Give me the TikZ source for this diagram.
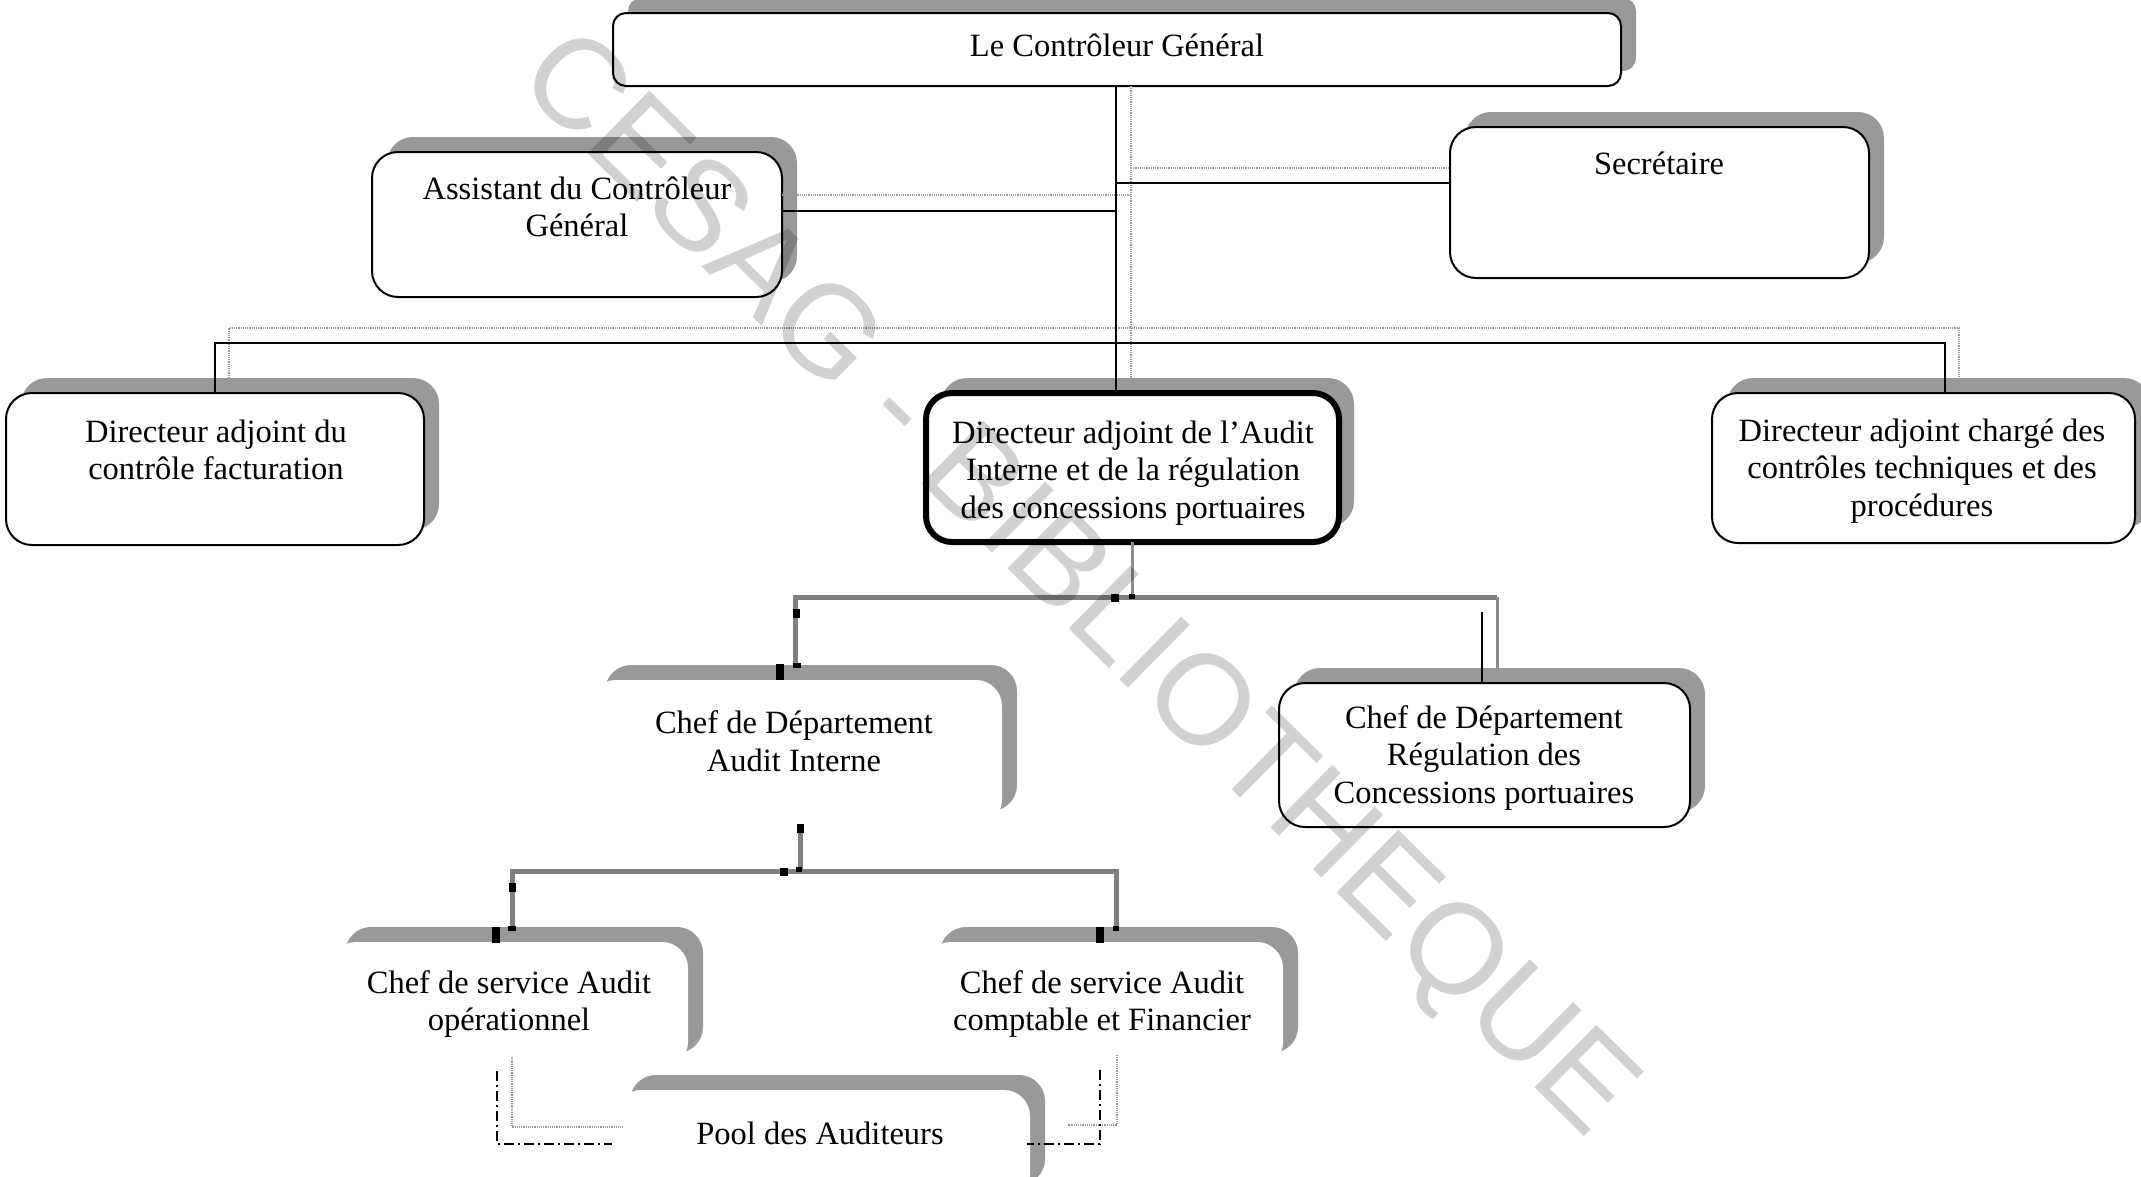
\documentclass[tikz,border=0pt]{standalone}
\usepackage{fontspec}
\setmainfont{Liberation Serif}
\newfontfamily\wmfont{Liberation Sans}
\usetikzlibrary{shadows}
\definecolor{shade}{gray}{0.6}
\definecolor{wmgray}{gray}{0.82}
\definecolor{ghostgray}{gray}{0.6}
% small black selection handle: x, y (centre), width, height
\newcommand\handle[4]{\fill (#1-#3/2,#2-#4/2) rectangle ++(#3,#4);}
\begin{document}
\begin{tikzpicture}[x=1pt,y=-1pt,
  every node/.style={inner sep=0pt,outer sep=0pt},
  shad/.style={drop shadow={shadow xshift=15pt,shadow yshift=15pt,fill=shade,opacity=1}},
  orgbox/.style={draw,line width=2pt,rounded corners=26pt,fill=white,shad},
  ghostbox/.style={draw=none,fill=white,rounded corners=26pt,shad},
  lbl/.style={align=center,font=\fontsize{32.5}{37.5}\selectfont},
  conn/.style={line width=2pt},
  ghost/.style={densely dotted,line width=1.2pt,ghostgray},
  hatchline/.style={line width=5pt,black!50},
  thinhatch/.style={line width=3pt,black!45},
  dashdot/.style={line width=2pt,dash pattern=on 10pt off 4pt on 2pt off 4pt}
]
\fill[white] (0,0) rectangle (2141,1176);
\useasboundingbox (0,0) rectangle (2141,1176);

% ---------- boxes ----------
\node[orgbox,rounded corners=13pt,minimum width=1008pt,minimum height=73pt] (cg) at (1117,49.5) {};
\node[orgbox,minimum width=410pt,minimum height=145pt] (asst) at (577,224.5) {};
\node[orgbox,minimum width=419pt,minimum height=151pt] (sec) at (1659.5,202.5) {};
\node[orgbox,minimum width=418pt,minimum height=152pt] (dir1) at (215,469) {};
\node[orgbox,line width=6pt,minimum width=413pt,minimum height=149pt] (audit) at (1132.5,467.5) {};
\node[orgbox,minimum width=423pt,minimum height=150pt] (dir3) at (1923.5,468) {};
\node[ghostbox,minimum width=412pt,minimum height=146pt] (chefai) at (796,753) {};
\node[orgbox,minimum width=411pt,minimum height=144pt] (chefreg) at (1484.5,755) {};
\node[ghostbox,minimum width=358pt,minimum height=126pt] (svcop) at (509,1005) {};
\node[ghostbox,minimum width=358pt,minimum height=126pt] (svccf) at (1104,1005) {};
\node[ghostbox,minimum width=415pt,minimum height=110pt] (pool) at (822.5,1145) {};

% ---------- texts ----------
\node[lbl] (t-cg) at (1117,45) {Le Contrôleur Général};
\node[lbl] (t-asst) at (577,207) {Assistant du Contrôleur\\Général};
\node[lbl] (t-sec) at (1659,163) {Secrétaire};
\node[lbl] (t-dir1) at (216,450) {Directeur adjoint du\\contrôle facturation};
\node[lbl] (t-audit) at (1133,473) {Directeur adjoint de l’Audit\\Interne et de la régulation\\des concessions portuaires};
\node[lbl] (t-dir3) at (1922,471) {Directeur adjoint chargé des\\contrôles techniques et des\\procédures};
\node[lbl] (t-chefai) at (794,741) {Chef de Département\\Audit Interne};
\node[lbl] (t-chefreg) at (1484,758) {Chef de Département\\Régulation des\\Concessions portuaires};
\node[lbl] (t-svcop) at (509,1004) {Chef de service Audit\\opérationnel};
\node[lbl] (t-svccf) at (1102,1004) {Chef de service Audit\\comptable et Financier};
\node[lbl] (t-pool) at (820,1133) {Pool des Auditeurs};

% ---------- upper connectors ----------
\coordinate (spine) at (1116,0);
\coordinate (jA) at (1116,211);
\coordinate (jS) at (1116,183);
\coordinate (jB) at (1116,343);
\coordinate (jR) at (1945,343);
% dotted echoes of the upper connectors
\coordinate (gS1) at (1131,86);
\coordinate (gS2) at (1131,378);
\coordinate (gA) at (782,195);
\coordinate (gSe) at (1449,168);
\coordinate (gL) at (229,328);
\coordinate (gR) at (1959,328);
\draw[ghost] (gS1) -- (gS2);
\draw[ghost] (gA) -- (gA -| gS1);
\draw[ghost] (gS1 |- gSe) -- (gSe);
\draw[ghost] (229,378) -- (gL) -- (gR) -- (1959,378);

\draw[conn] (cg.south -| spine) -- (audit.north -| spine);
\draw[conn] (asst.east |- jA) -- (jA);
\draw[conn] (jS) -- (sec.west |- jS);
\draw[conn] (dir1.north) -- (dir1.north |- jB) -- (jR) -- (jR |- dir3.north);

% ---------- lower connectors ----------
\coordinate (b1) at (1132,597);
\coordinate (b1L) at (795,597);
\coordinate (b1R) at (1497,597);
\path ([yshift=15pt]chefai.north) coordinate (aiTop);
\path ([yshift=15pt]chefreg.north) coordinate (regTop);
\draw[thinhatch] (audit.south -| b1) -- (b1);
\draw[hatchline] (b1L |- aiTop) -- (b1L) -- (b1R);
\draw[thinhatch] (b1R) -- (b1R |- regTop);
\draw[conn] (1482,612) -- (1482,683) coordinate (regIn);

\coordinate (b2) at (800,871);
\coordinate (b2L) at (512,871);
\coordinate (b2R) at (1116,871);
\path ([yshift=14pt]svcop.north) coordinate (opTop);
\draw[hatchline] (chefai.south -| b2) -- (b2);
\draw[hatchline] (b2L |- opTop) -- (b2L) -- (b2R) -- (b2R |- opTop);

% dash-dot links to the pool
\draw[ghost] (512,1057) -- (512,1127) -- (623,1127);
\draw[ghost] (1117,1055) -- (1117,1125) -- (1068,1125);
\draw[dashdot] (497,1071) -- (497,1144) -- (612,1144);
\draw[dashdot] (1100,1070) -- (1100,1144) -- (1027,1144);

% selection handles
\handle{1115}{598}{8}{8}
\handle{1132}{596}{6}{5}
\handle{796}{613}{7}{9}
\handle{797}{665}{8}{5}
\handle{780}{672}{8}{16}
\handle{800}{828}{7}{9}
\handle{784}{872}{8}{8}
\handle{799}{869}{6}{5}
\handle{512}{887}{7}{9}
\handle{512}{928}{8}{5}
\handle{496}{935}{8}{16}
\handle{1116}{928}{6}{5}
\handle{1100}{935}{8}{16}

% ---------- watermark ----------
\begin{scope}[blend mode=multiply]
\node[font=\wmfont\fontsize{128}{128}\selectfont,text=wmgray,rotate=-44.6] (wm) at (1074,588) {CESAG - BIBLIOTHEQUE};
\end{scope}
\end{tikzpicture}
\end{document}
